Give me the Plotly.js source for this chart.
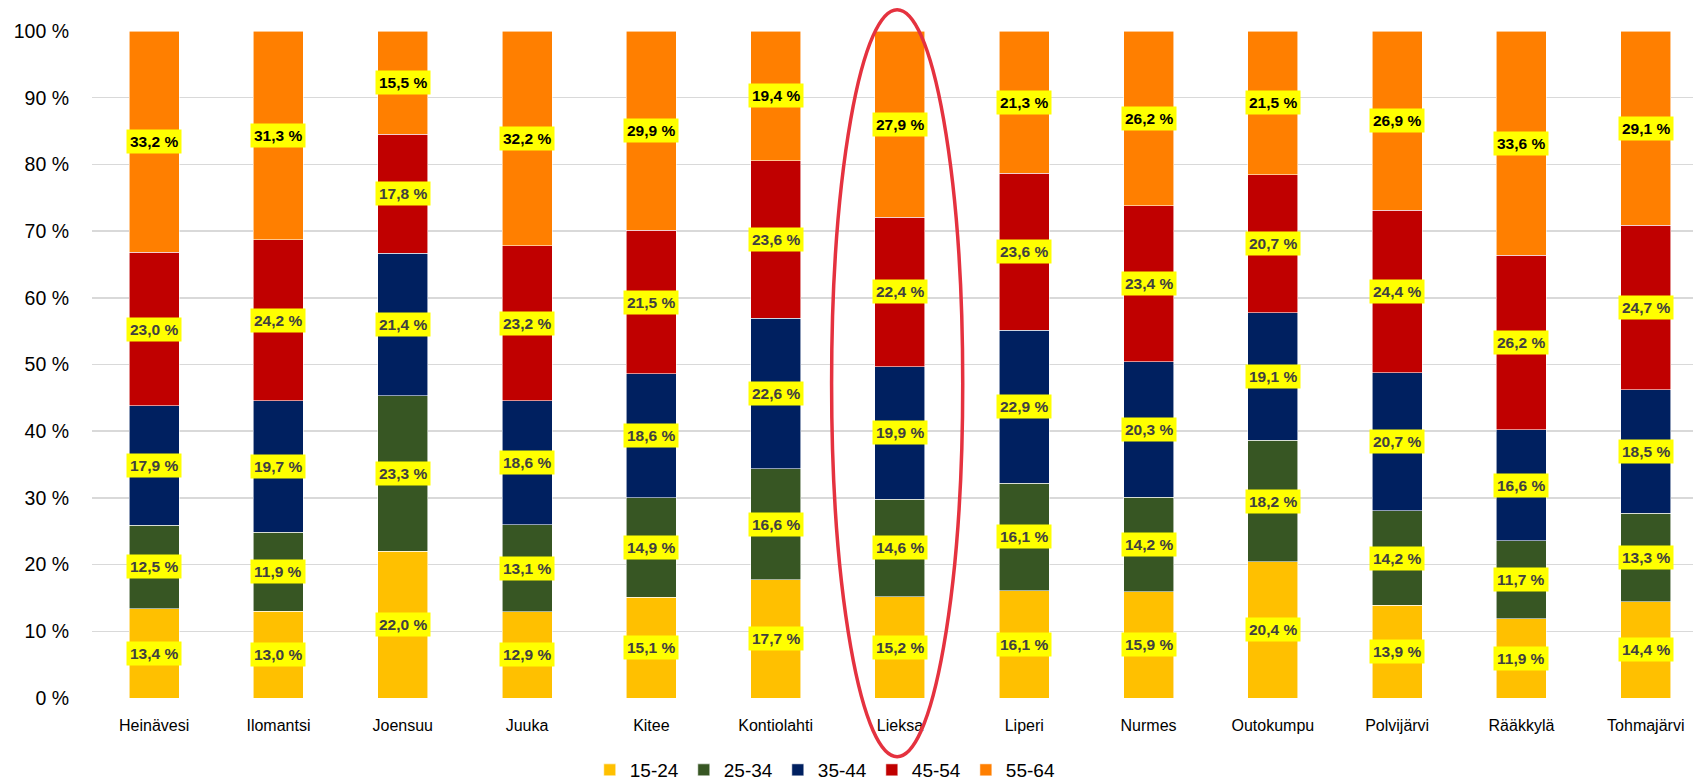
<!DOCTYPE html>
<html>
<head>
<meta charset="utf-8">
<script src="https://cdn.plot.ly/plotly-3.0.1.min.js"></script>
<style>html,body{margin:0;padding:0;background:#fff}#chart{width:1693px;height:783px}</style>
</head>
<body>
<div id="chart"></div>
<script>
const municipalities = ["Heinävesi","Ilomantsi","Joensuu","Juuka","Kitee","Kontiolahti","Lieksa","Liperi","Nurmes","Outokumpu","Polvijärvi","Rääkkylä","Tohmajärvi"];
const seriesNames = ["15-24","25-34","35-44","45-54","55-64"];
const age15_24 = [13.4,13.0,22.0,12.9,15.1,17.7,15.2,16.1,15.9,20.4,13.9,11.9,14.4];
const age25_34 = [12.5,11.9,23.3,13.1,14.9,16.6,14.6,16.1,14.2,18.2,14.2,11.7,13.3];
const age35_44 = [17.9,19.7,21.4,18.6,18.6,22.6,19.9,22.9,20.3,19.1,20.7,16.6,18.5];
const age45_54 = [23.0,24.2,17.8,23.2,21.5,23.6,22.4,23.6,23.4,20.7,24.4,26.2,24.7];
const age55_64 = [33.2,31.3,15.5,32.2,29.9,19.4,27.9,21.3,26.2,21.5,26.9,33.6,29.1];
const yTicks = [0,10,20,30,40,50,60,70,80,90,100];
const yTickLabels = ["0 %","10 %","20 %","30 %","40 %","50 %","60 %","70 %","80 %","90 %","100 %"];
const highlighted = "Lieksa";

const allSeries = [age15_24, age25_34, age35_44, age45_54, age55_64];
const colors = ["#FFC000","#375623","#002060","#C00000","#FF7F00"];
const labelColors = ["#404040","#404040","#404040","#404040","#000000"];

const traces = allSeries.map((vals, i) => ({
  type: "bar",
  name: seriesNames[i],
  x: municipalities,
  y: vals,
  marker: {color: colors[i], line: {color: "rgba(255,255,255,0.7)", width: 0.8}},
  hoverinfo: "skip"
}));

const fmt = v => v.toFixed(1).replace(".", ",") + " %";
const annotations = [];
municipalities.forEach((m, j) => {
  const total = allSeries.reduce((s, arr) => s + arr[j], 0);
  let cum = 0;
  allSeries.forEach((arr, i) => {
    const v = arr[j];
    const center = (cum + v / 2) / total * 100;
    cum += v;
    annotations.push({
      x: m, y: center, xref: "x", yref: "y",
      text: fmt(v), showarrow: false,
      bgcolor: "#FFFF00", borderpad: 3,
      font: {family: "Liberation Sans, Arial, sans-serif", size: 15.5, color: labelColors[i], weight: "bold"}
    });
  });
});

const hIdx = municipalities.indexOf(highlighted);
const shapes = [{
  type: "circle", xref: "x", yref: "paper",
  x0: hIdx - 0.55, x1: hIdx + 0.505,
  y0: -0.088, y1: 1.032,
  line: {color: "#E5323F", width: 3.5},
  layer: "above"
}];

const layout = {
  width: 1693, height: 783,
  margin: {l: 92, r: 0, t: 31, b: 85},
  barmode: "stack",
  barnorm: "percent",
  bargap: 0.598,
  paper_bgcolor: "#fff", plot_bgcolor: "#fff",
  font: {family: "Liberation Sans, Arial, sans-serif", color: "#000"},
  xaxis: {
    type: "category", categoryorder: "array", categoryarray: municipalities,
    range: [-0.5, 12.38], showgrid: false, showline: false, zeroline: false,
    ticks: "", tickfont: {size: 16, color: "#000"}, ticklabelstandoff: 16, fixedrange: true,
    automargin: false
  },
  yaxis: {
    range: [0, 100], tickmode: "array", tickvals: yTicks, ticktext: yTickLabels,
    showgrid: true, gridcolor: "#D9D9D9", gridwidth: 1.5, zeroline: false, showline: false,
    ticks: "", tickfont: {size: 19.5, color: "#000"}, ticklabelstandoff: 22, fixedrange: true,
    automargin: false
  },
  legend: {
    orientation: "h", x: 0.458, xanchor: "center", yref: "container", y: 0.0166, yanchor: "middle",
    font: {size: 19, color: "#000"}, traceorder: "normal", itemwidth: 30,
    bgcolor: "rgba(0,0,0,0)"
  },
  annotations: annotations,
  shapes: shapes,
  showlegend: true
};

Plotly.newPlot("chart", traces, layout, {staticPlot: true, displayModeBar: false});
</script>
</body>
</html>
